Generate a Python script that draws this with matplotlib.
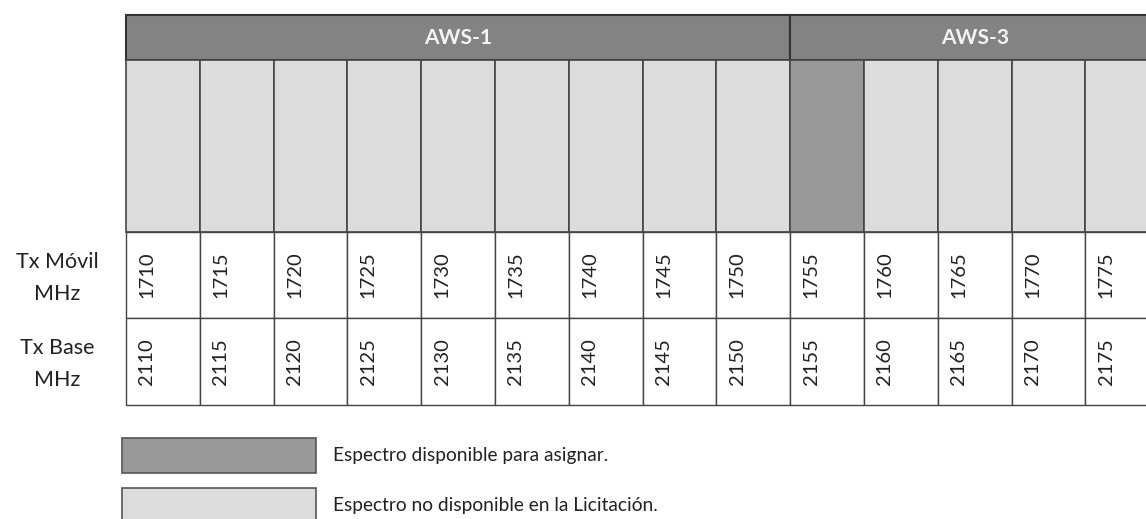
import matplotlib.pyplot as plt
from matplotlib.patches import Rectangle

plt.rcParams['font.family'] = ['Lato', 'DejaVu Sans']

tx_movil = [1710, 1715, 1720, 1725, 1730, 1735, 1740, 1745, 1750, 1755, 1760, 1765, 1770, 1775]
tx_base = [2110, 2115, 2120, 2125, 2130, 2135, 2140, 2145, 2150, 2155, 2160, 2165, 2170, 2175]
bands = ['AWS-1', 'AWS-3']
band_cols = [9, 5]
disponible = [False] * 9 + [True] + [False] * 4
row_labels = ['Tx Móvil\nMHz', 'Tx Base\nMHz']
legend_labels = ['Espectro disponible para asignar.', 'Espectro no disponible en la Licitación.']

DARK = '#838383'
MID = '#999999'
LIGHT = '#dcdcdc'
EDGE = '#444444'

fig = plt.figure(figsize=(11.46, 5.19), dpi=100)
ax = fig.add_axes([0, 0, 1, 1])
ax.set_xlim(0, 1146)
ax.set_ylim(519, 0)
ax.axis('off')

x0, cw = 126, 73.8
y_head, y_cell, y_r1, y_r2, y_end = 15, 60, 232, 318, 405

# header bands
start = 0
for name, n in zip(bands, band_cols):
    ax.add_patch(Rectangle((x0 + start * cw, y_head), n * cw, y_cell - y_head,
                           facecolor=DARK, edgecolor='#333333', lw=1.5))
    ax.text(x0 + (start + n / 2) * cw, (y_head + y_cell) / 2 + 1, name, color='#f4f4f4',
            fontsize=15, fontweight='bold', ha='center', va='center')
    start += n

# spectrum cells and frequency rows
for i, (m, b) in enumerate(zip(tx_movil, tx_base)):
    x = x0 + i * cw
    ax.add_patch(Rectangle((x, y_cell), cw, y_r1 - y_cell,
                           facecolor=MID if disponible[i] else LIGHT, edgecolor=EDGE, lw=1.2))
    ax.add_patch(Rectangle((x, y_r1), cw, y_r2 - y_r1, facecolor='white', edgecolor=EDGE, lw=1.0))
    ax.add_patch(Rectangle((x, y_r2), cw, y_end - y_r2, facecolor='white', edgecolor=EDGE, lw=1.0))
    ax.text(x + cw / 2 - 16, (y_r1 + y_r2) / 2, str(m), rotation=90,
            fontsize=14.5, ha='center', va='center', color='#222222')
    ax.text(x + cw / 2 - 16, (y_r2 + y_end) / 2, str(b), rotation=90,
            fontsize=14.5, ha='center', va='center', color='#222222')

ax.text(57, (y_r1 + y_r2) / 2 + 3, row_labels[0], fontsize=15.5, ha='center', va='center',
        linespacing=1.75, color='#222222')
ax.text(57, (y_r2 + y_end) / 2 + 3, row_labels[1], fontsize=15.5, ha='center', va='center',
        linespacing=1.75, color='#222222')

# legend
for k, (lab, col) in enumerate(zip(legend_labels, [MID, LIGHT])):
    y = 438 + k * 50
    ax.add_patch(Rectangle((122, y), 194, 35, facecolor=col, edgecolor='#555555', lw=1.2))
    ax.text(333, y + 18, lab, fontsize=13.8, ha='left', va='center', color='#222222')

fig.savefig('out.png', dpi=100)
